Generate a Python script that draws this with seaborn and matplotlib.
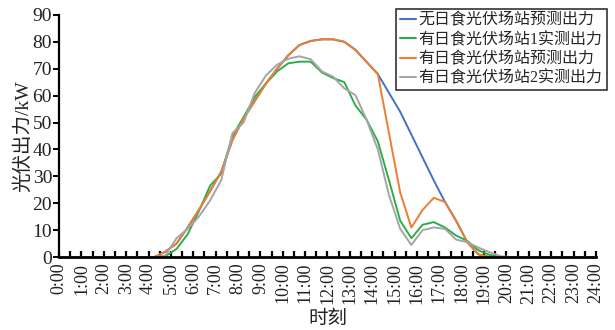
import numpy as np
import pandas as pd
import matplotlib
matplotlib.use("Agg")
import matplotlib.pyplot as plt
import seaborn as sns

# time points (hours) of the active part of the day; the rest of the day is zero
hours = [4.25, 4.75, 5.25, 5.75, 6.25, 6.75, 7.25, 7.75, 8.25, 8.75, 9.25, 9.75,
         10.25, 10.75, 11.25, 11.75, 12.25, 12.75, 13.25, 13.75, 14.25, 14.75,
         15.25, 15.75, 16.25, 16.75, 17.25, 17.75, 18.25, 18.75, 19.25, 19.75, 20.25]

no_eclipse_forecast = [0, 2, 5, 11, 17.5, 24.5, 31.7, 43.5, 51.5, 58, 64.5, 70,
                       75, 78.8, 80.3, 80.9, 80.9, 80, 77, 72.5, 68, 61,
                       54, 45.5, 37, 28.5, 20.5, 13.5, 5.5, 1, 0, 0, 0]
site1_measured = [0, 0.3, 3, 8.5, 17, 26.5, 31, 45, 52, 59.5, 64.5, 69,
                  72, 72.6, 72.6, 68.6, 66.5, 65, 56.3, 51, 43, 28.5,
                  13.5, 7, 12, 13, 11, 8, 6, 2.5, 0.8, 0, 0]
eclipse_forecast = [0, 2, 5, 11, 17.5, 24.5, 31.7, 43.5, 51.5, 58, 64.5, 70,
                    75, 78.8, 80.3, 80.9, 80.9, 80, 77, 72.5, 68, 46,
                    24, 11, 17.5, 22, 20.5, 13.5, 5.5, 1, 0, 0, 0]
site2_measured = [0, 0.5, 7, 10.5, 15, 21, 28.6, 46, 50, 61, 67.5, 71.5,
                  73.7, 74.6, 73.5, 69, 67, 62.7, 60.2, 51, 40, 23,
                  10.5, 4.5, 10, 11, 10.5, 6.5, 5.5, 3.5, 1.8, 0.3, 0]

series_names = ["无日食光伏场站预测出力", "有日食光伏场站1实测出力",
                "有日食光伏场站预测出力", "有日食光伏场站2实测出力"]
series_values = [no_eclipse_forecast, site1_measured, eclipse_forecast, site2_measured]
colors = ["#4472C4", "#2BAE4A", "#ED7D31", "#A5A5A5"]

tick_hours = list(range(0, 25))
tick_labels = [f"{h}:00" for h in tick_hours]

# full-day frames: zero from 0:00 and to 24:00
frames = []
for name, vals in zip(series_names, series_values):
    t = [0.0] + hours + [24.0]
    v = [0.0] + list(vals) + [0.0]
    frames.append(pd.DataFrame({"时刻": t, "出力": v, "series": name}))
df = pd.concat(frames, ignore_index=True)

sns.set_theme(style="ticks")
plt.rcParams["font.family"] = ["Liberation Serif", "Noto Sans CJK SC"]

fig = plt.figure(figsize=(6.15, 3.3), dpi=100)
ax = fig.add_axes([0.096, 0.221, 0.873, 0.734])

sns.lineplot(data=df, x="时刻", y="出力", hue="series", hue_order=series_names,
             palette=colors, linewidth=1.4, ax=ax, sort=False, clip_on=False)

ax.set_xlim(0, 24)
ax.set_ylim(0, 90)
ax.set_xticks(tick_hours)
ax.set_xticklabels(tick_labels, rotation=90)
ax.set_xticks(np.arange(0.5, 24, 1.0), minor=True)
ax.set_yticks(range(0, 91, 10))
ax.tick_params(axis="x", which="both", direction="in", length=4, width=1.6,
               labelsize=13, pad=4, colors="black")
ax.tick_params(axis="y", direction="out", length=4, width=1.4, labelsize=14,
               pad=1, colors="black")
for lab in ax.get_xticklabels() + ax.get_yticklabels():
    lab.set_color("#222222")

for s in ["top", "right"]:
    ax.spines[s].set_visible(False)
ax.spines["bottom"].set_linewidth(2.0)
ax.spines["left"].set_linewidth(1.6)
ax.spines["bottom"].set_color("black")
ax.spines["left"].set_color("black")

ax.set_xlabel("时刻", fontsize=14, labelpad=5, color="#222222")
ax.set_ylabel("光伏出力/kW", fontsize=14, labelpad=0, color="#222222")

leg = ax.legend(loc="upper right", bbox_to_anchor=(1.02, 1.025), fontsize=11.5,
                frameon=True, fancybox=False, handlelength=1.0,
                handletextpad=0.15, borderpad=0.25, labelspacing=0.2,
                borderaxespad=0.0)
leg.get_frame().set_edgecolor("black")
leg.get_frame().set_linewidth(1.2)
for line in leg.get_lines():
    line.set_linewidth(1.5)

fig.savefig("out.png", dpi=100)
